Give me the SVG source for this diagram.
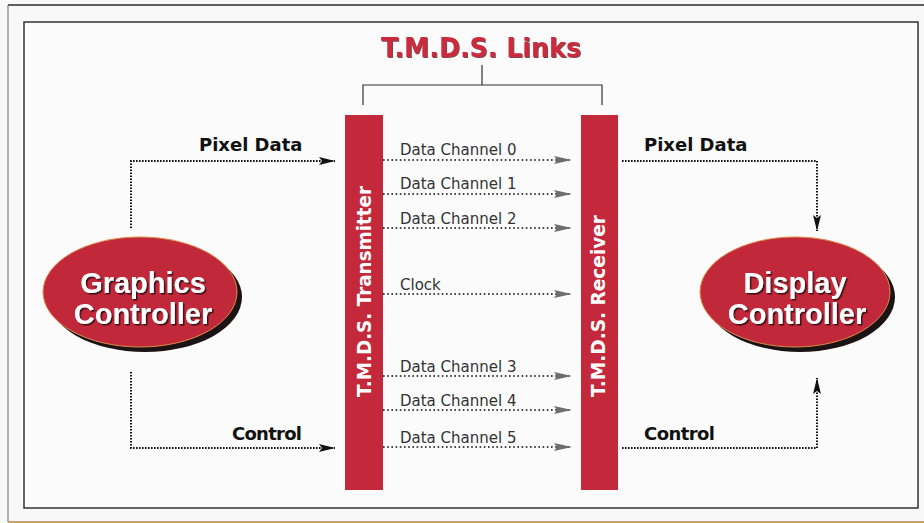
<svg xmlns="http://www.w3.org/2000/svg" width="924" height="523" viewBox="0 0 924 523">
  <style>
    .bar { fill: #c4293b; }
    .ell { fill: #c1283a; stroke: #e08a4a; stroke-width: 1; }
    .shadow { fill: #1c1414; }
    .bartxt { font-family: "DejaVu Sans", "Liberation Sans", sans-serif; font-weight: bold; font-size: 20px; fill: #ffffff; }
    .elltxt { font-family: "Liberation Sans", Arial, sans-serif; font-weight: bold; font-size: 29px; fill: #ffffff; text-anchor: middle; }
    .lbl { font-family: "DejaVu Sans", "Liberation Sans", sans-serif; font-weight: bold; font-size: 18px; fill: #111111; }
    .ch { font-family: "DejaVu Sans", "Liberation Sans", sans-serif; font-size: 15px; fill: #333333; }
    .title { font-family: "DejaVu Sans", "Liberation Sans", sans-serif; font-weight: bold; font-size: 27px; fill: #cc2a3e; }
    .dotb { fill: none; stroke: #111111; stroke-width: 2; stroke-dasharray: 1.6 1.4; }
    .dotg { fill: none; stroke: #444444; stroke-width: 1.8; stroke-dasharray: 1.6 2.6; }
    .brk { fill: none; stroke: #333333; stroke-width: 1.2; }
  </style>
  <defs>
    <marker id="ab" markerUnits="userSpaceOnUse" markerWidth="17" markerHeight="9" refX="16" refY="4.5" orient="auto">
      <path d="M0,0.5 L16,4.5 L0,8.5 L3,4.5 z" fill="#111111"/>
    </marker>
    <marker id="ag" markerUnits="userSpaceOnUse" markerWidth="19" markerHeight="9" refX="18" refY="4.5" orient="auto">
      <path d="M0,0.5 L18,4.5 L0,8.5 L3,4.5 z" fill="#6e6e6e"/>
    </marker>
    <filter id="ts" x="-10%" y="-20%" width="130%" height="150%">
      <feDropShadow dx="1.5" dy="1.5" stdDeviation="0.6" flood-color="#2a1010" flood-opacity="0.9"/>
    </filter>
    <filter id="tts" x="-10%" y="-20%" width="130%" height="150%">
      <feDropShadow dx="1" dy="1" stdDeviation="0.5" flood-color="#5a1a20" flood-opacity="0.8"/>
    </filter>
  </defs>

  <rect x="0" y="0" width="924" height="523" fill="#f8f8f9"/>
  <g id="frame">
    <line x1="8" y1="5" x2="924" y2="5" stroke="#2b2b2b" stroke-width="1.5"/>
    <line x1="8" y1="5" x2="8" y2="522" stroke="#666666" stroke-width="1"/>
    <line x1="8" y1="522" x2="924" y2="522" stroke="#c9a06a" stroke-width="2"/>
    <rect x="24" y="22" width="894" height="486" fill="#fbfbfc" stroke="#333333" stroke-width="1.5"/>
  </g>

  <g id="title">
    <text class="title" x="481" y="57" text-anchor="middle" textLength="200" lengthAdjust="spacingAndGlyphs" filter="url(#tts)">T.M.D.S. Links</text>
    <path class="brk" d="M363,105 V85 H602 V105 M482,65 V85"/>
  </g>

  <g id="transmitter">
    <rect class="bar" x="345" y="115" width="38" height="375"/>
    <text class="bartxt" transform="translate(371,397) rotate(-90)" textLength="211" lengthAdjust="spacingAndGlyphs">T.M.D.S. Transmitter</text>
  </g>

  <g id="receiver">
    <rect class="bar" x="581" y="115" width="37" height="375"/>
    <text class="bartxt" transform="translate(605,397) rotate(-90)" textLength="182" lengthAdjust="spacingAndGlyphs">T.M.D.S. Receiver</text>
  </g>

  <g id="graphics-controller">
    <ellipse class="shadow" cx="145" cy="297" rx="97" ry="55"/>
    <ellipse class="ell" cx="140" cy="292" rx="97" ry="55"/>
    <text class="elltxt" x="143" y="293" filter="url(#ts)">Graphics</text>
    <text class="elltxt" x="143" y="324" filter="url(#ts)">Controller</text>
  </g>

  <g id="display-controller">
    <ellipse class="shadow" cx="800" cy="297" rx="95" ry="55"/>
    <ellipse class="ell" cx="795" cy="292" rx="95" ry="55"/>
    <text class="elltxt" x="795" y="293" filter="url(#ts)">Display</text>
    <text class="elltxt" x="797" y="324" filter="url(#ts)">Controller</text>
  </g>

  <g id="connectors">
    <path class="dotb" d="M131,228 V161 H335" marker-end="url(#ab)"/>
    <path class="dotb" d="M131,372 V448 H335" marker-end="url(#ab)"/>
    <path class="dotb" d="M622,161 H817 V231" marker-end="url(#ab)"/>
    <path class="dotb" d="M622,448 H817 V378" marker-end="url(#ab)"/>

    <line class="dotg" x1="383" y1="160" x2="572" y2="160" marker-end="url(#ag)"/>
    <line class="dotg" x1="383" y1="194" x2="572" y2="194" marker-end="url(#ag)"/>
    <line class="dotg" x1="383" y1="228" x2="572" y2="228" marker-end="url(#ag)"/>
    <line class="dotg" x1="383" y1="294" x2="572" y2="294" marker-end="url(#ag)"/>
    <line class="dotg" x1="383" y1="376" x2="572" y2="376" marker-end="url(#ag)"/>
    <line class="dotg" x1="383" y1="410" x2="572" y2="410" marker-end="url(#ag)"/>
    <line class="dotg" x1="383" y1="447" x2="572" y2="447" marker-end="url(#ag)"/>
  </g>

  <g id="labels">
    <text class="lbl" x="199" y="151">Pixel Data</text>
    <text class="lbl" x="232" y="440" textLength="70">Control</text>
    <text class="lbl" x="644" y="151">Pixel Data</text>
    <text class="lbl" x="644" y="440" textLength="71">Control</text>

    <text class="ch" x="400" y="155">Data Channel 0</text>
    <text class="ch" x="400" y="189">Data Channel 1</text>
    <text class="ch" x="400" y="224">Data Channel 2</text>
    <text class="ch" x="400" y="290">Clock</text>
    <text class="ch" x="400" y="372">Data Channel 3</text>
    <text class="ch" x="400" y="406">Data Channel 4</text>
    <text class="ch" x="400" y="443">Data Channel 5</text>
  </g>
</svg>
